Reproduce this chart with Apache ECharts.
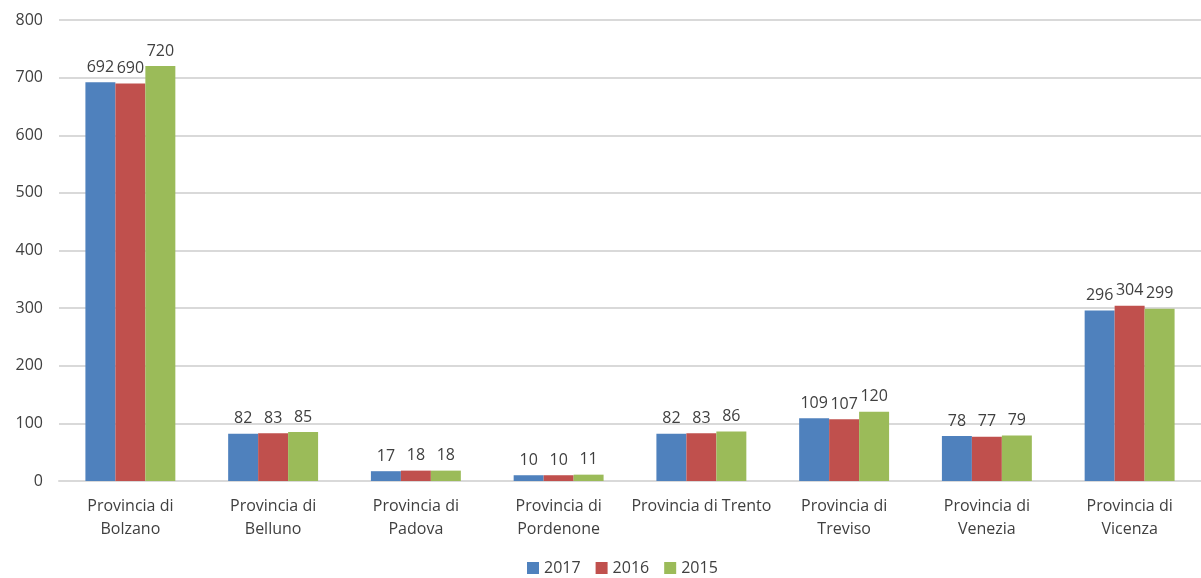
<!DOCTYPE html>
<html>
<head>
<meta charset="utf-8">
<script src="https://cdn.jsdelivr.net/npm/echarts@6/dist/echarts.min.js"></script>
<style>
  html, body { margin: 0; padding: 0; background: #fff; }
  #main { width: 1201px; height: 578px; }
</style>
</head>
<body>
<div id="main"></div>
<script>
// categorie e valori
const province = ["Provincia di\nBolzano", "Provincia di\nBelluno", "Provincia di\nPadova", "Provincia di\nPordenone",
  "Provincia di Trento", "Provincia di\nTreviso", "Provincia di\nVenezia", "Provincia di\nVicenza"];
const anni = ["2017", "2016", "2015"];
const dati2017 = [692, 82, 17, 10, 82, 109, 78, 296];
const dati2016 = [690, 83, 18, 10, 83, 107, 77, 304];
const dati2015 = [720, 85, 18, 11, 86, 120, 79, 299];
const colori = ["#4F81BD", "#C0504D", "#9BBB59"];

const font = "'Open Sans', 'Noto Sans', sans-serif";

function serie(nome, valori, colore) {
  return {
    name: nome,
    type: "bar",
    data: valori,
    barGap: 0,
    barCategoryGap: "37%",
    itemStyle: { color: colore },
    label: {
      show: true,
      position: "top",
      distance: 7,
      color: "#404040",
      fontSize: 16,
      fontFamily: font
    }
  };
}

const chart = echarts.init(document.getElementById("main"));
chart.setOption({
  animation: false,
  textStyle: { fontFamily: font },
  legend: {
    bottom: -3,
    left: 522,
    itemWidth: 12,
    itemHeight: 12,
    itemGap: 15,
    icon: "rect",
    textStyle: { color: "#404040", fontSize: 16, fontFamily: font },
    data: anni
  },
  grid: { left: 59, right: 0, top: 20, bottom: 97 },
  xAxis: {
    type: "category",
    data: province,
    axisTick: { show: false },
    axisLine: { lineStyle: { color: "#D9D9D9", width: 2 } },
    axisLabel: { color: "#404040", fontSize: 16, lineHeight: 23, margin: 14, fontFamily: font, interval: 0 }
  },
  yAxis: {
    type: "value",
    min: 0,
    max: 800,
    interval: 100,
    axisLine: { show: false },
    axisTick: { show: false },
    axisLabel: { color: "#404040", fontSize: 16, margin: 16, fontFamily: font },
    splitLine: { lineStyle: { color: "#D9D9D9", width: 2 } }
  },
  series: [
    serie(anni[0], dati2017, colori[0]),
    serie(anni[1], dati2016, colori[1]),
    serie(anni[2], dati2015, colori[2])
  ]
});
</script>
</body>
</html>
